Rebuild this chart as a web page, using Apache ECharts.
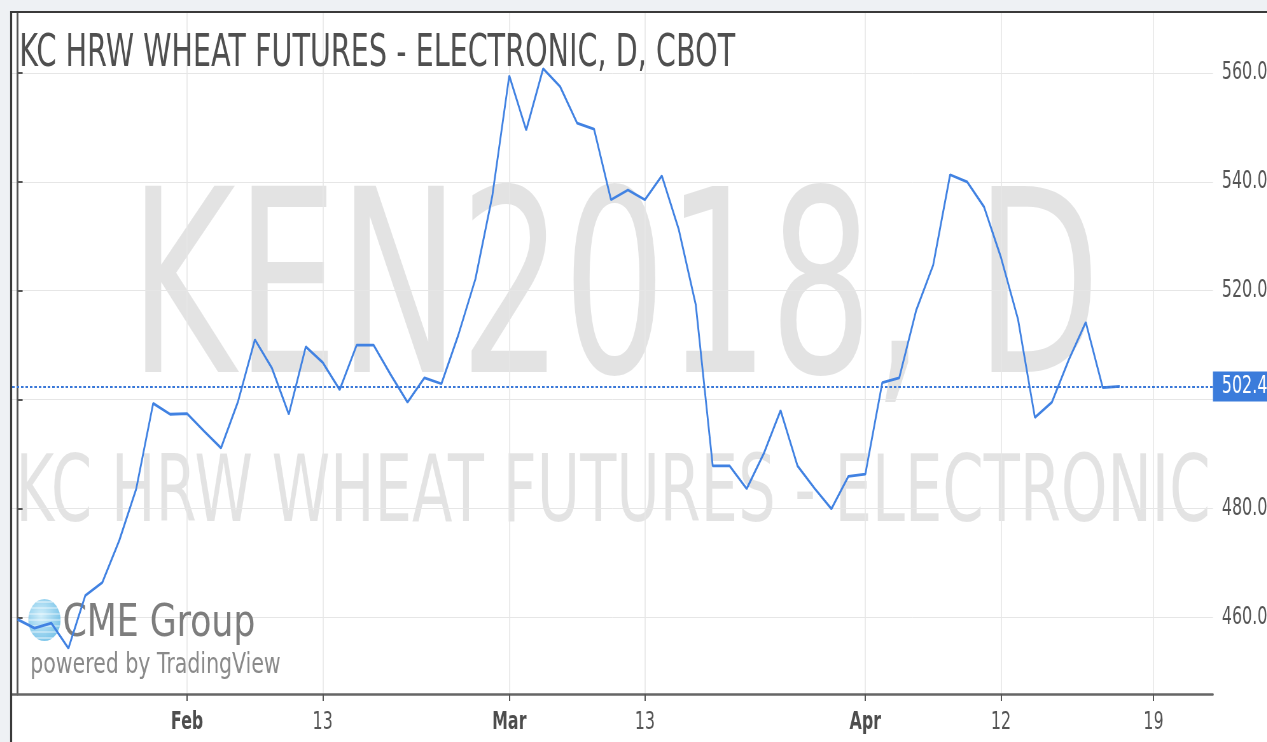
<!DOCTYPE html>
<html>
<head>
<meta charset="utf-8">
<script src="https://cdn.jsdelivr.net/npm/echarts@6/dist/echarts.min.js"></script>
<style>
  html, body { margin: 0; padding: 0; background: #fff; overflow: hidden; width: 1267px; height: 742px; }
  /* the source screenshot is squeezed sideways, so draw wide and squeeze it back */
  #chart { position: absolute; left: 0; top: 0; width: 2011px; height: 742px; transform: scaleX(0.6362); transform-origin: 0 0; }
</style>
</head>
<body>
<div id="chart"></div>
<script>
// KEN2018 daily closes, one per trading day (index 0 = Jan 18)
var prices = [
  459.6, 458.0, 458.9, 454.3, 464.0, 466.4, 474.1, 483.6, 499.3, 497.3,
  497.4, 494.2, 491.1, 499.6, 511.0, 505.8, 497.3, 509.7, 506.8, 501.8,
  510.0, 510.0, 504.6, 499.5, 504.0, 502.9, 511.9, 522.1, 537.4, 559.5,
  549.5, 560.8, 557.5, 550.8, 549.7, 536.7, 538.5, 536.7, 541.1, 531.2,
  517.4, 487.8, 487.8, 483.6, 490.0, 498.0, 487.8, 483.7, 479.9, 485.9,
  486.3, 503.1, 504.0, 516.4, 524.7, 541.3, 540.0, 535.4, 526.1, 514.8,
  496.7, 499.5, 507.3, 514.2, 502.2, 502.4
]
var lastPrice = 502.4
var tickIndex = [10, 18, 29, 37, 50, 58, 67]
var tickLabels = ['Feb', '13', 'Mar', '13', 'Apr', '12', '19']
var monthLabels = ['Feb', 'Mar', 'Apr']
var priceTicks = [460, 480, 500, 520, 540, 560]
var priceLabels = [460, 480, 520, 540, 560]

var SX = 1267 / 2011
var FONT = '"DejaVu Sans"'
function px(x) { return x / SX }

var chart = echarts.init(document.getElementById('chart'))

// small globe for the CME mark
var globe = [{
  type: 'circle', x: px(44), y: 620, scaleX: 1.21, z: 1,
  shape: { cx: 0, cy: 0, r: 21 },
  style: {
    fill: new echarts.graphic.RadialGradient(0.4, 0.4, 0.7, [
      { offset: 0, color: '#c9ecfa' }, { offset: 1, color: '#5bb6e3' }
    ]),
    opacity: 0.85
  }
}]
for (var k = -3; k <= 3; k++) {
  var dy = k * 6
  var hw = 21 * Math.sqrt(1 - (dy / 21) * (dy / 21))
  globe.push({
    type: 'line', x: px(44), y: 620, scaleX: 1.21, z: 1,
    shape: { x1: -hw, y1: dy, x2: hw, y2: dy },
    style: { stroke: 'rgba(255,255,255,0.7)', lineWidth: 1.2 }
  })
}

chart.setOption({
  animation: false,
  grid: { left: 19, right: 86, top: 12, bottom: 48 },
  xAxis: {
    type: 'value',
    min: -0.32,
    max: 70.5,
    axisLine: { lineStyle: { color: '#666', width: 2.5 } },
    axisTick: { customValues: tickIndex, length: 7, lineStyle: { color: '#555', width: 2 } },
    axisLabel: {
      customValues: tickIndex,
      margin: 16,
      fontSize: 25,
      fontFamily: FONT,
      color: '#555',
      formatter: function (v) {
        var t = tickLabels[tickIndex.indexOf(v)]
        return monthLabels.indexOf(t) >= 0 ? '{m|' + t + '}' : t
      },
      rich: { m: { fontSize: 25, fontFamily: FONT, fontWeight: 'bold', color: '#4d4d4d' } }
    },
    splitLine: { show: true, lineStyle: { color: '#e6e6e6', width: 1.6 } }
  },
  yAxis: {
    type: 'value',
    position: 'right',
    min: 445.9,
    max: 571.2,
    axisLine: { show: true, lineStyle: { color: '#555', width: 3 } },
    axisTick: { show: true, customValues: priceTicks, length: 8, lineStyle: { color: '#555', width: 2 } },
    axisLabel: {
      customValues: priceLabels,
      margin: 14,
      fontSize: 25,
      fontFamily: FONT,
      color: '#555',
      formatter: function (v) { return v.toFixed(2) }
    },
    splitLine: { show: true, lineStyle: { color: '#e6e6e6', width: 1 } }
  },
  graphic: [
    // watermark
    { type: 'text', x: px(609), y: 306, z: -1, silent: true,
      style: { text: 'KEN2018, D', font: '255px ' + FONT, fill: 'rgba(0,0,0,0.11)', align: 'center', verticalAlign: 'middle' } },
    { type: 'text', x: px(607), y: 497, z: -1, silent: true,
      style: { text: 'KC HRW WHEAT FUTURES - ELECTRONIC', font: '93px ' + FONT, fill: 'rgba(0,0,0,0.11)', align: 'center', verticalAlign: 'middle' } },
    // frame
    { type: 'rect', z: 20, silent: true, shape: { x: 0, y: 0, width: 2011, height: 11 }, style: { fill: '#eef1f4' } },
    { type: 'rect', z: 20, silent: true, shape: { x: 0, y: 0, width: 16, height: 742 }, style: { fill: '#eef1f4' } },
    { type: 'line', z: 21, silent: true, shape: { x1: 16, y1: 12, x2: 2011, y2: 12 }, style: { stroke: '#3a3a3a', lineWidth: 2 } },
    { type: 'line', z: 21, silent: true, shape: { x1: 17.5, y1: 11, x2: 17.5, y2: 742 }, style: { stroke: '#3a3a3a', lineWidth: 3.2 } },
    // title
    { type: 'text', x: px(19), y: 54, z: 10, silent: true,
      style: { text: 'KC HRW WHEAT FUTURES - ELECTRONIC, D, CBOT', font: '45px ' + FONT, fill: '#4f4f4f', verticalAlign: 'middle' } },
    // logo
    { type: 'text', x: px(62), y: 625, scaleX: 1.24, z: 1, silent: true,
      style: { text: 'CME Group', font: '44px ' + FONT, fill: '#7d7d7d', verticalAlign: 'middle' } },
    { type: 'text', x: px(30), y: 666, scaleX: 1.15, z: 1, silent: true,
      style: { text: 'powered by TradingView', font: '28px ' + FONT, fill: '#8a8a8a', verticalAlign: 'middle' } }
  ].concat(globe),
  series: [{
    type: 'line',
    data: prices.map(function (v, i) { return [i, v] }),
    symbol: 'none',
    z: 3,
    lineStyle: { color: '#4182e2', width: 2.8 },
    markLine: {
      silent: true,
      symbol: 'none',
      data: [{ yAxis: lastPrice }],
      lineStyle: { color: '#3a78d8', type: [4, 3], width: 2 },
      label: {
        position: 'end',
        distance: 0,
        formatter: lastPrice.toFixed(2),
        color: '#fff',
        backgroundColor: '#3b7cdb',
        fontSize: 25,
        fontFamily: FONT,
        padding: [3, 14, 2, 14]
      }
    }
  }]
})
</script>
</body>
</html>
